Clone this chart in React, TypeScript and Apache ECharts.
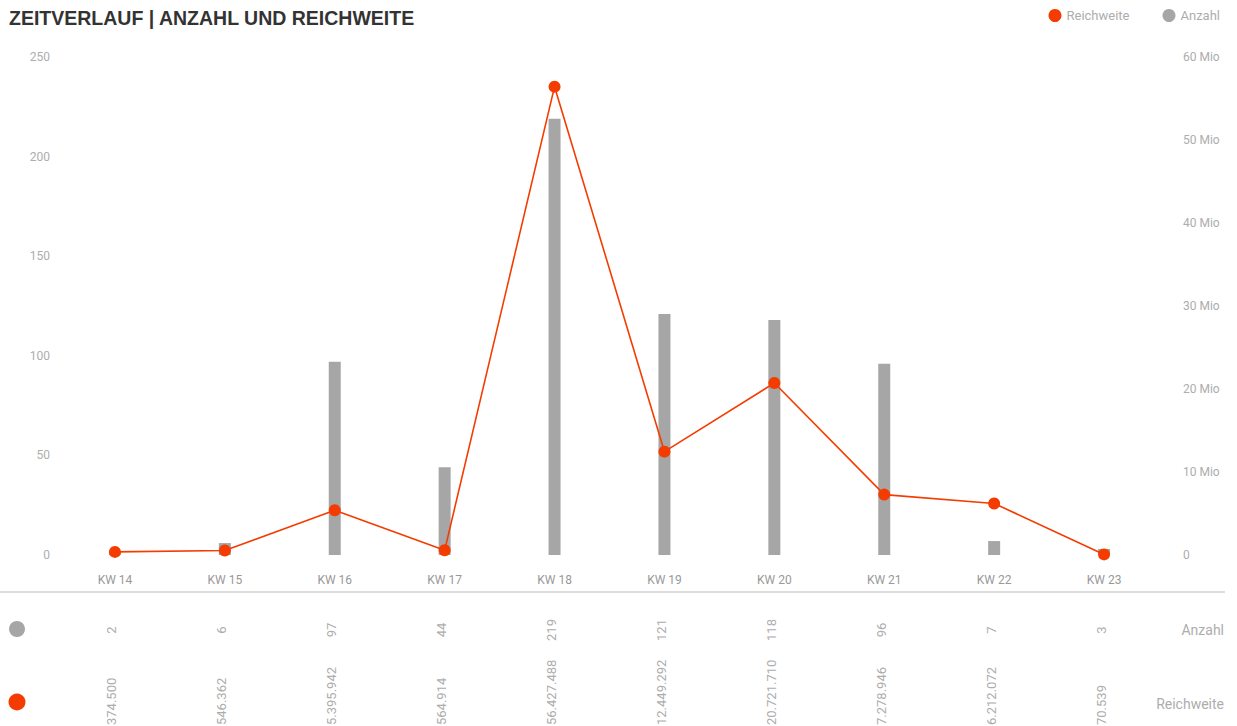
import React, { useEffect, useRef } from "react";
import * as echarts from "echarts";

const categories = ["KW 14", "KW 15", "KW 16", "KW 17", "KW 18", "KW 19", "KW 20", "KW 21", "KW 22", "KW 23"];
const anzahl = [2, 6, 97, 44, 219, 121, 118, 96, 7, 3];
const reichweite = [374500, 546362, 5395942, 564914, 56427488, 12449292, 20721710, 7278946, 6212072, 70539];
const leftTicks = { min: 0, max: 250, interval: 50 };
const rightTicks = { min: 0, max: 60000000, interval: 10000000 };

const ORANGE = "#f43c00";
const GRAY = "#a6a6a6";
const LABEL = "#adadad";
const FONT = "Roboto, 'Noto Sans', sans-serif";

const fmtDE = (n: number) => String(n).replace(/\B(?=(\d{3})+(?!\d))/g, ".");

export default function App() {
  const ref = useRef<HTMLDivElement>(null);
  useEffect(() => {
    if (!ref.current) return;
    const chart = echarts.init(ref.current, undefined, { renderer: "svg" });
    chart.setOption({
      animation: false,
      backgroundColor: "#ffffff",
      title: {
        text: "ZEITVERLAUF | ANZAHL UND REICHWEITE",
        left: 9,
        top: 8,
        padding: 0,
        textStyle: { fontFamily: "'Liberation Sans', Arial, sans-serif", fontWeight: "bold", fontSize: 19.5, color: "#333333" },
      },
      legend: {
        data: ["Reichweite", "Anzahl"],
        right: 17,
        top: 9,
        padding: 0,
        icon: "circle",
        itemWidth: 13,
        itemHeight: 13,
        itemGap: 33,
        textStyle: { fontFamily: FONT, fontSize: 13, color: LABEL },
      },
      grid: { left: 60, right: 78, top: 57, bottom: 171 },
      xAxis: {
        type: "category",
        data: categories,
        axisLine: { show: false },
        axisTick: { show: false },
        axisLabel: { margin: 19, color: "#999999", fontFamily: FONT, fontSize: 12 },
      },
      yAxis: [
        {
          type: "value",
          ...leftTicks,
          splitLine: { show: false },
          axisLine: { show: false },
          axisTick: { show: false },
          axisLabel: { margin: 10, color: LABEL, fontFamily: FONT, fontSize: 12 },
        },
        {
          type: "value",
          ...rightTicks,
          position: "right",
          splitLine: { show: false },
          axisLine: { show: false },
          axisTick: { show: false },
          axisLabel: {
            margin: 24,
            color: LABEL,
            fontFamily: FONT,
            fontSize: 12,
            formatter: (v: number) => (v === 0 ? "0" : v / 1000000 + " Mio"),
          },
        },
      ],
      series: [
        {
          name: "Anzahl",
          type: "bar",
          data: anzahl,
          barWidth: 12,
          itemStyle: { color: GRAY },
          yAxisIndex: 0,
        },
        {
          name: "Reichweite",
          type: "line",
          data: reichweite,
          yAxisIndex: 1,
          symbol: "circle",
          symbolSize: 12,
          lineStyle: { color: ORANGE, width: 1.6 },
          itemStyle: { color: ORANGE },
          z: 5,
        },
      ],
    });

    const graphics: any[] = [
      { type: "line", shape: { x1: 0, y1: 592, x2: 1225, y2: 592 }, style: { stroke: "#dddddd", lineWidth: 2 } },
      { type: "circle", shape: { cx: 17, cy: 629, r: 8 }, style: { fill: GRAY } },
      { type: "circle", shape: { cx: 17, cy: 702, r: 8.5 }, style: { fill: ORANGE } },
      {
        type: "text",
        x: 1224,
        y: 630,
        style: { text: "Anzahl", fill: LABEL, fontFamily: FONT, fontSize: 14, align: "right", verticalAlign: "middle" },
      },
      {
        type: "text",
        x: 1224,
        y: 704,
        style: { text: "Reichweite", fill: LABEL, fontFamily: FONT, fontSize: 14, align: "right", verticalAlign: "middle" },
      },
    ];
    categories.forEach((c, i) => {
      const px = chart.convertToPixel({ xAxisIndex: 0 }, c) as number;
      graphics.push({
        type: "text",
        x: px - 3,
        y: 630,
        rotation: Math.PI / 2,
        style: { text: String(anzahl[i]), fill: LABEL, fontFamily: FONT, fontSize: 13, align: "center", verticalAlign: "middle" },
      });
      graphics.push({
        type: "text",
        x: px - 3,
        y: 725,
        rotation: Math.PI / 2,
        style: { text: fmtDE(reichweite[i]), fill: LABEL, fontFamily: FONT, fontSize: 13, align: "left", verticalAlign: "middle" },
      });
    });
    chart.setOption({ graphic: graphics });

    return () => chart.dispose();
  }, []);
  return <div ref={ref} style={{ position: "fixed", left: 0, top: 0, width: 1237, height: 726 }} />;
}
